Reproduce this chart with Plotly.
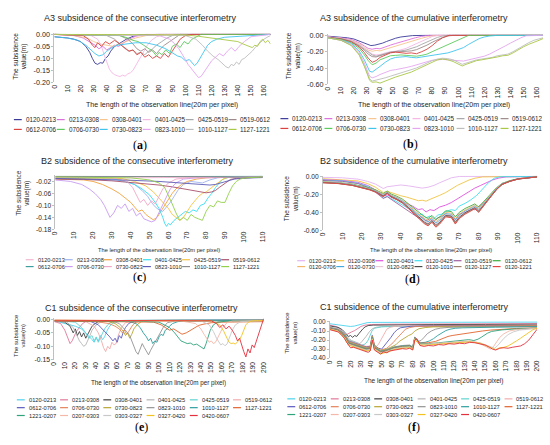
import plotly.graph_objects as go

W, H = 550, 445

# ---------------- data ----------------
A3_CONSEC = {
    "0120-0213": ([0, 5, 10, 15, 20, 24, 27, 29, 31, 33, 35, 37, 39, 41, 43, 46, 50, 55, 60, 65, 80, 100, 130, 165],
                  [-0.010, -0.012, -0.015, -0.020, -0.030, -0.050, -0.075, -0.100, -0.120, -0.125, -0.118, -0.120, -0.100, -0.090, -0.070, -0.050, -0.035, -0.020, -0.008, -0.002, 0.0, 0.0, 0.0, 0.0]),
    "0213-0308": ([0, 15, 22, 27, 31, 34, 37, 40, 43, 46, 49, 53, 57, 62, 70, 165],
                  [0, -0.005, -0.015, -0.030, -0.045, -0.060, -0.050, -0.065, -0.055, -0.045, -0.050, -0.035, -0.020, -0.008, 0, 0]),
    "0308-0401": ([0, 15, 25, 30, 35, 40, 45, 50, 55, 62, 70, 80, 165],
                  [0, -0.005, -0.015, -0.030, -0.040, -0.045, -0.050, -0.040, -0.030, -0.015, -0.005, 0, 0]),
    "0401-0425": ([0, 28, 33, 36, 38, 40, 42, 44, 46, 48, 50, 52, 54, 56, 58, 60, 62, 64, 66, 68, 71, 74, 78, 85, 165],
                  [0, -0.005, -0.020, -0.050, -0.085, -0.120, -0.145, -0.160, -0.168, -0.172, -0.176, -0.170, -0.174, -0.165, -0.160, -0.150, -0.130, -0.110, -0.090, -0.070, -0.045, -0.025, -0.010, 0, 0]),
    "0425-0519": ([0, 40, 46, 50, 54, 57, 60, 63, 66, 69, 72, 75, 78, 82, 86, 92, 165],
                  [0, -0.005, -0.020, -0.040, -0.060, -0.070, -0.065, -0.080, -0.075, -0.085, -0.070, -0.060, -0.045, -0.030, -0.015, 0, 0]),
    "0519-0612": ([0, 50, 56, 60, 63, 66, 69, 72, 75, 78, 81, 84, 88, 92, 96, 165],
                  [0, -0.005, -0.020, -0.040, -0.060, -0.070, -0.060, -0.075, -0.065, -0.080, -0.060, -0.045, -0.030, -0.015, 0, 0]),
    "0612-0706": ([0, 22, 26, 29, 31, 33, 36, 39, 42, 46, 50, 54, 57, 60, 63, 66, 69, 72, 75, 78, 81, 84, 87, 90, 93, 96, 100, 105, 165],
                  [0, -0.005, -0.020, -0.045, -0.055, -0.035, -0.050, -0.030, -0.040, -0.025, -0.040, -0.055, -0.070, -0.065, -0.085, -0.075, -0.095, -0.085, -0.100, -0.090, -0.100, -0.080, -0.095, -0.070, -0.045, -0.020, -0.005, 0, 0]),
    "0706-0730": ([0, 50, 56, 60, 64, 68, 72, 75, 78, 80, 82, 85, 88, 90, 93, 96, 99, 102, 105, 108, 112, 165],
                  [0, -0.005, -0.015, -0.025, -0.030, -0.045, -0.060, -0.070, -0.090, -0.075, -0.085, -0.065, -0.080, -0.050, -0.040, -0.055, -0.030, -0.040, -0.020, -0.010, 0, 0]),
    "0730-0823": ([0, 10, 18, 24, 28, 31, 34, 37, 40, 44, 48, 55, 62, 70, 78, 85, 90, 94, 97, 100, 103, 105, 107, 109, 111, 113, 115, 117, 120, 124, 130, 140, 150, 165],
                  [-0.010, -0.015, -0.025, -0.045, -0.065, -0.080, -0.090, -0.085, -0.070, -0.055, -0.045, -0.040, -0.035, -0.035, -0.045, -0.060, -0.075, -0.090, -0.095, -0.110, -0.105, -0.120, -0.130, -0.120, -0.100, -0.080, -0.060, -0.045, -0.030, -0.020, -0.012, -0.008, -0.004, 0]),
    "0823-1010": ([0, 80, 88, 92, 95, 98, 100, 102, 104, 106, 108, 110, 112, 114, 116, 118, 120, 123, 126, 129, 132, 135, 138, 141, 145, 150, 165],
                  [0, -0.005, -0.020, -0.040, -0.060, -0.085, -0.105, -0.125, -0.140, -0.155, -0.170, -0.180, -0.175, -0.160, -0.140, -0.125, -0.110, -0.095, -0.080, -0.090, -0.070, -0.055, -0.070, -0.050, -0.030, -0.010, 0]),
    "1010-1127": ([0, 100, 108, 113, 117, 121, 125, 128, 131, 133, 135, 137, 139, 141, 143, 145, 148, 151, 154, 157, 160, 163, 165],
                  [0, -0.005, -0.020, -0.045, -0.070, -0.090, -0.105, -0.120, -0.135, -0.140, -0.125, -0.130, -0.115, -0.125, -0.105, -0.100, -0.085, -0.070, -0.050, -0.035, -0.020, -0.010, -0.005]),
    "1127-1221": ([0, 100, 110, 120, 128, 135, 140, 144, 148, 151, 153, 155, 157, 159, 161, 163, 165],
                  [0, -0.002, -0.008, -0.015, -0.020, -0.025, -0.030, -0.040, -0.050, -0.055, -0.045, -0.050, -0.030, -0.020, -0.035, -0.025, -0.040]),
}

A3_CUM_X = [0, 10, 18, 24, 28, 30, 32, 34, 37, 40, 44, 48, 52, 56, 60, 64, 68, 72, 76, 80, 84, 88, 92, 96, 100,
            103, 106, 110, 114, 118, 122, 126, 130, 134, 138, 142, 146, 150, 154, 158, 162, 165]
A3_CUMUL = {
    "0120-0213": ([0, 5, 10, 15, 20, 24, 27, 30, 33, 36, 39, 42, 45, 48, 52, 56, 60, 65, 75, 165],
                  [-0.010, -0.015, -0.020, -0.030, -0.045, -0.070, -0.095, -0.115, -0.125, -0.120, -0.110, -0.095, -0.075, -0.055, -0.035, -0.020, -0.010, -0.003, 0, 0]),
    "0213-0308": ([0, 10, 18, 24, 28, 31, 34, 37, 40, 44, 48, 52, 57, 62, 67, 72, 78, 165],
                  [-0.020, -0.030, -0.050, -0.090, -0.130, -0.160, -0.170, -0.160, -0.165, -0.140, -0.120, -0.100, -0.075, -0.050, -0.030, -0.012, 0, 0]),
    "0308-0401": ([0, 10, 18, 24, 28, 31, 34, 37, 40, 44, 48, 52, 57, 62, 67, 72, 77, 82, 165],
                  [-0.020, -0.035, -0.060, -0.100, -0.150, -0.180, -0.195, -0.185, -0.190, -0.170, -0.150, -0.130, -0.110, -0.085, -0.060, -0.035, -0.015, 0, 0]),
    "0401-0425": ([0, 10, 18, 24, 28, 31, 34, 37, 40, 44, 48, 52, 56, 60, 64, 68, 72, 76, 80, 85, 165],
                  [-0.020, -0.035, -0.065, -0.110, -0.160, -0.200, -0.230, -0.240, -0.235, -0.215, -0.200, -0.195, -0.180, -0.160, -0.130, -0.100, -0.070, -0.040, -0.015, 0, 0]),
    "0425-0519": ([0, 10, 18, 24, 28, 31, 34, 37, 40, 44, 48, 52, 56, 60, 64, 68, 72, 76, 80, 84, 88, 92, 165],
                  [-0.025, -0.040, -0.070, -0.120, -0.170, -0.210, -0.240, -0.255, -0.245, -0.225, -0.205, -0.200, -0.190, -0.180, -0.160, -0.140, -0.110, -0.080, -0.050, -0.025, -0.008, 0, 0]),
    "0519-0612": ([0, 10, 18, 24, 28, 31, 34, 37, 40, 44, 48, 52, 56, 60, 64, 68, 72, 76, 80, 84, 88, 92, 96, 165],
                  [-0.025, -0.040, -0.075, -0.130, -0.180, -0.230, -0.260, -0.265, -0.250, -0.230, -0.210, -0.205, -0.200, -0.195, -0.190, -0.175, -0.150, -0.120, -0.085, -0.050, -0.025, -0.008, 0, 0]),
    "0612-0706": ([0, 10, 18, 24, 28, 31, 34, 37, 40, 44, 48, 52, 56, 60, 64, 68, 72, 76, 80, 84, 88, 93, 165],
                  [-0.025, -0.045, -0.080, -0.140, -0.210, -0.280, -0.330, -0.310, -0.270, -0.240, -0.215, -0.205, -0.210, -0.220, -0.215, -0.225, -0.200, -0.170, -0.125, -0.070, -0.030, 0, 0]),
    "0706-0730": ([0, 10, 18, 24, 28, 31, 34, 37, 40, 44, 48, 52, 56, 60, 64, 68, 72, 76, 80, 84, 88, 92, 96, 100, 104, 108, 165],
                  [-0.030, -0.050, -0.090, -0.160, -0.240, -0.310, -0.360, -0.340, -0.300, -0.270, -0.250, -0.245, -0.240, -0.245, -0.250, -0.255, -0.245, -0.230, -0.200, -0.170, -0.140, -0.110, -0.080, -0.050, -0.020, 0, 0]),
    "0730-0823": ([0, 10, 18, 24, 28, 30, 32, 34, 37, 40, 44, 48, 52, 56, 60, 64, 68, 72, 76, 80, 84, 88, 92, 96, 100, 104, 108, 112, 116, 120, 124, 130, 165],
                  [-0.030, -0.055, -0.100, -0.190, -0.300, -0.380, -0.440, -0.450, -0.420, -0.380, -0.330, -0.290, -0.270, -0.265, -0.260, -0.270, -0.275, -0.265, -0.255, -0.245, -0.235, -0.225, -0.215, -0.195, -0.175, -0.150, -0.110, -0.070, -0.040, -0.020, -0.008, 0, 0]),
    "0823-1010": ([0, 10, 18, 24, 28, 30, 32, 34, 37, 40, 44, 48, 52, 56, 60, 64, 68, 72, 76, 80, 84, 88, 92, 96, 100, 104, 108, 112, 116, 120, 124, 128, 132, 136, 140, 144, 148, 152, 165],
                  [-0.030, -0.060, -0.110, -0.210, -0.340, -0.430, -0.500, -0.520, -0.505, -0.480, -0.450, -0.430, -0.420, -0.410, -0.395, -0.380, -0.360, -0.340, -0.320, -0.305, -0.300, -0.295, -0.300, -0.305, -0.310, -0.315, -0.300, -0.285, -0.270, -0.255, -0.230, -0.200, -0.165, -0.130, -0.095, -0.060, -0.030, -0.005, 0]),
    "1010-1127": (A3_CUM_X,
                  [-0.030, -0.060, -0.120, -0.230, -0.370, -0.460, -0.530, -0.560, -0.550, -0.540, -0.520, -0.500, -0.480, -0.460, -0.440, -0.420, -0.400, -0.370, -0.340, -0.310, -0.290, -0.280, -0.285, -0.300, -0.330, -0.355, -0.340, -0.320, -0.300, -0.290, -0.280, -0.270, -0.250, -0.240, -0.230, -0.200, -0.160, -0.120, -0.090, -0.060, -0.040, -0.030]),
    "1127-1221": (A3_CUM_X,
                  [-0.030, -0.060, -0.125, -0.240, -0.380, -0.480, -0.550, -0.575, -0.570, -0.585, -0.560, -0.530, -0.510, -0.490, -0.470, -0.450, -0.420, -0.390, -0.360, -0.330, -0.300, -0.290, -0.300, -0.320, -0.350, -0.375, -0.355, -0.330, -0.310, -0.300, -0.290, -0.280, -0.265, -0.250, -0.245, -0.215, -0.175, -0.140, -0.110, -0.080, -0.060, -0.040]),
}

B2_CONSEC = {
    "0120-0213": ([0, 10, 20, 40, 60, 80, 100, 110],
                  [-0.015, -0.012, -0.010, -0.008, -0.007, -0.006, -0.005, -0.004]),
    "0213-0308": ([0, 20, 35, 42, 46, 49, 51, 53, 55, 57, 59, 61, 63, 65, 68, 72, 78, 82, 86, 90, 110],
                  [-0.010, -0.012, -0.015, -0.030, -0.050, -0.070, -0.090, -0.105, -0.115, -0.120, -0.105, -0.090, -0.070, -0.050, -0.030, -0.020, -0.025, -0.015, -0.008, -0.005, -0.004]),
    "0308-0401": ([0, 15, 20, 25, 30, 34, 37, 40, 42, 44, 46, 48, 50, 52, 54, 56, 58, 60, 62, 64, 67, 70, 75, 80, 90, 110],
                  [-0.012, -0.015, -0.020, -0.030, -0.045, -0.060, -0.075, -0.090, -0.105, -0.120, -0.115, -0.130, -0.140, -0.148, -0.140, -0.120, -0.100, -0.080, -0.060, -0.045, -0.030, -0.020, -0.012, -0.008, -0.005, -0.004]),
    "0401-0425": ([0, 30, 37, 42, 46, 50, 53, 55, 57, 58, 59, 60, 61, 63, 65, 67, 69, 71, 73, 75, 77, 79, 81, 83, 85, 87, 89, 92, 100, 110],
                  [-0.008, -0.010, -0.020, -0.030, -0.045, -0.065, -0.090, -0.110, -0.140, -0.160, -0.170, -0.160, -0.165, -0.150, -0.140, -0.130, -0.120, -0.125, -0.115, -0.120, -0.100, -0.095, -0.075, -0.060, -0.040, -0.025, -0.012, -0.006, -0.004, -0.003]),
    "0425-0519": ([0, 35, 42, 48, 52, 55, 58, 60, 62, 64, 66, 68, 70, 72, 74, 76, 78, 80, 83, 86, 89, 92, 110],
                  [-0.008, -0.010, -0.020, -0.035, -0.055, -0.075, -0.095, -0.110, -0.130, -0.140, -0.150, -0.140, -0.120, -0.100, -0.085, -0.070, -0.060, -0.055, -0.040, -0.025, -0.012, -0.006, -0.004]),
    "0519-0612": ([0, 15, 30, 45, 55, 62, 68, 73, 77, 80, 83, 85, 87, 89, 91, 93, 96, 100, 105, 110],
                  [-0.012, -0.013, -0.018, -0.025, -0.032, -0.038, -0.045, -0.050, -0.055, -0.058, -0.055, -0.050, -0.040, -0.030, -0.020, -0.013, -0.010, -0.008, -0.007, -0.006]),
    "0612-0706": ([0, 20, 40, 60, 80, 100, 110],
                  [-0.004, -0.004, -0.005, -0.005, -0.004, -0.004, -0.003]),
    "0706-0730": ([0, 8, 14, 18, 21, 24, 26, 28, 29, 31, 33, 35, 37, 39, 41, 43, 45, 47, 49, 51, 53, 55, 57, 59, 61, 64, 68, 75, 90, 110],
                  [-0.015, -0.020, -0.030, -0.045, -0.060, -0.080, -0.100, -0.125, -0.140, -0.125, -0.100, -0.110, -0.095, -0.120, -0.110, -0.135, -0.125, -0.145, -0.150, -0.155, -0.150, -0.125, -0.095, -0.070, -0.045, -0.025, -0.012, -0.008, -0.006, -0.005]),
    "0730-0823": ([0, 30, 38, 41, 43, 45, 47, 49, 51, 53, 55, 57, 60, 64, 70, 110],
                  [-0.006, -0.008, -0.020, -0.040, -0.065, -0.090, -0.080, -0.100, -0.085, -0.095, -0.070, -0.045, -0.025, -0.012, -0.008, -0.005]),
    "0823-1010": ([0, 20, 40, 55, 65, 72, 78, 82, 85, 88, 91, 95, 100, 105, 110],
                  [-0.010, -0.012, -0.016, -0.020, -0.024, -0.028, -0.030, -0.032, -0.030, -0.025, -0.018, -0.012, -0.009, -0.008, -0.007]),
    "1010-1127": ([0, 20, 40, 60, 80, 95, 105, 110],
                  [-0.003, -0.003, -0.004, -0.004, -0.004, -0.006, -0.006, -0.005]),
    "1127-1221": ([0, 40, 50, 55, 58, 60, 62, 64, 66, 68, 70, 72, 74, 76, 78, 80, 82, 84, 86, 88, 90, 92, 94, 96, 98, 101, 105, 110],
                  [-0.005, -0.008, -0.015, -0.025, -0.040, -0.065, -0.095, -0.125, -0.150, -0.140, -0.150, -0.130, -0.140, -0.145, -0.150, -0.120, -0.100, -0.105, -0.085, -0.090, -0.090, -0.060, -0.035, -0.020, -0.012, -0.008, -0.006, -0.005]),
}

B2_BUNDLE_X = [0, 8, 15, 20, 24, 27, 29, 31, 33, 35, 38, 41, 44, 47, 50, 52, 54, 56, 58, 60, 63, 66, 68, 70, 73,
               76, 78, 80, 83, 86, 89, 92, 96, 100, 105, 110]
B2_CUMUL = {
    "0120-0213": ([0, 10, 18, 23, 27, 29, 31, 33, 36, 40, 44, 48, 51, 54, 57, 60, 63, 66, 70, 110],
                  [-0.010, -0.015, -0.030, -0.055, -0.085, -0.110, -0.135, -0.115, -0.105, -0.095, -0.105, -0.120, -0.130, -0.120, -0.100, -0.070, -0.040, -0.015, 0, 0]),
    "0120-0308": ([0, 10, 18, 23, 27, 29, 31, 33, 36, 40, 43, 46, 49, 51, 53, 55, 57, 60, 63, 66, 69, 72, 75, 78, 82, 110],
                  [-0.025, -0.035, -0.050, -0.080, -0.120, -0.150, -0.180, -0.165, -0.190, -0.215, -0.230, -0.250, -0.270, -0.265, -0.275, -0.255, -0.240, -0.210, -0.180, -0.140, -0.100, -0.070, -0.040, -0.020, -0.005, 0]),
    "0120-0401": ([0, 10, 18, 23, 27, 29, 31, 33, 36, 40, 43, 46, 49, 51, 53, 55, 57, 60, 63, 66, 69, 72, 75, 78, 81, 84, 87, 90, 94, 110],
                  [-0.035, -0.045, -0.065, -0.100, -0.150, -0.190, -0.220, -0.205, -0.240, -0.280, -0.300, -0.330, -0.370, -0.360, -0.395, -0.370, -0.380, -0.340, -0.320, -0.290, -0.250, -0.210, -0.170, -0.130, -0.100, -0.070, -0.040, -0.020, -0.005, 0]),
    "0120-0425": ([0, 10, 18, 23, 27, 29, 31, 33, 36, 40, 43, 46, 49, 51, 53, 55, 57, 59, 61, 63, 66, 68, 70, 73, 76, 79, 82, 85, 88, 91, 110],
                  [-0.040, -0.050, -0.075, -0.110, -0.165, -0.205, -0.240, -0.220, -0.260, -0.310, -0.345, -0.380, -0.430, -0.420, -0.460, -0.440, -0.470, -0.430, -0.420, -0.390, -0.370, -0.380, -0.330, -0.300, -0.260, -0.210, -0.140, -0.070, -0.020, -0.003, 0]),
    "0120-0519": ([0, 10, 18, 23, 27, 29, 31, 33, 36, 40, 43, 46, 49, 51, 53, 55, 57, 59, 61, 63, 66, 68, 70, 73, 76, 78, 80, 82, 85, 88, 90, 92, 95, 98, 102, 106, 110],
                  [-0.045, -0.055, -0.080, -0.120, -0.175, -0.215, -0.245, -0.225, -0.270, -0.330, -0.370, -0.410, -0.460, -0.450, -0.495, -0.470, -0.500, -0.460, -0.445, -0.420, -0.440, -0.480, -0.420, -0.400, -0.360, -0.370, -0.340, -0.300, -0.250, -0.180, -0.120, -0.090, -0.060, -0.040, -0.020, -0.008, 0]),
    "0120-0612": (B2_BUNDLE_X,
                  [-0.060, -0.068, -0.085, -0.106, -0.128, -0.149, -0.170, -0.191, -0.162, -0.196, -0.221, -0.255, -0.306, -0.357, -0.408, -0.446, -0.468, -0.434, -0.480, -0.451, -0.383, -0.391, -0.451, -0.400, -0.357, -0.323, -0.306, -0.340, -0.272, -0.196, -0.128, -0.077, -0.047, -0.026, -0.013, -0.004]),
    "0120-0706": (B2_BUNDLE_X,
                  [-0.062, -0.071, -0.089, -0.111, -0.134, -0.156, -0.178, -0.200, -0.169, -0.205, -0.231, -0.267, -0.320, -0.374, -0.427, -0.467, -0.490, -0.454, -0.503, -0.472, -0.401, -0.409, -0.472, -0.418, -0.374, -0.338, -0.320, -0.356, -0.285, -0.205, -0.134, -0.080, -0.049, -0.027, -0.013, -0.004]),
    "0120-0730": (B2_BUNDLE_X,
                  [-0.064, -0.074, -0.092, -0.115, -0.138, -0.161, -0.184, -0.207, -0.175, -0.212, -0.239, -0.276, -0.331, -0.386, -0.442, -0.483, -0.506, -0.469, -0.520, -0.488, -0.414, -0.423, -0.488, -0.432, -0.386, -0.350, -0.331, -0.368, -0.294, -0.212, -0.138, -0.083, -0.051, -0.028, -0.014, -0.005]),
    "0120-0823": (B2_BUNDLE_X,
                  [-0.066, -0.075, -0.094, -0.118, -0.141, -0.165, -0.188, -0.212, -0.179, -0.216, -0.244, -0.282, -0.338, -0.395, -0.451, -0.494, -0.517, -0.479, -0.531, -0.498, -0.423, -0.432, -0.498, -0.442, -0.395, -0.357, -0.338, -0.376, -0.301, -0.216, -0.141, -0.085, -0.052, -0.028, -0.014, -0.005]),
    "0120-1010": (B2_BUNDLE_X,
                  [-0.068, -0.077, -0.097, -0.121, -0.145, -0.169, -0.193, -0.217, -0.183, -0.222, -0.251, -0.290, -0.347, -0.405, -0.463, -0.507, -0.531, -0.492, -0.545, -0.511, -0.434, -0.444, -0.511, -0.454, -0.405, -0.367, -0.347, -0.386, -0.309, -0.222, -0.145, -0.087, -0.053, -0.029, -0.014, -0.005]),
    "0120-1127": (B2_BUNDLE_X,
                  [-0.069, -0.079, -0.099, -0.123, -0.148, -0.172, -0.197, -0.222, -0.187, -0.227, -0.256, -0.296, -0.355, -0.414, -0.473, -0.517, -0.542, -0.502, -0.557, -0.522, -0.443, -0.453, -0.522, -0.463, -0.414, -0.374, -0.355, -0.394, -0.315, -0.227, -0.148, -0.089, -0.054, -0.030, -0.015, -0.005]),
    "0120-1221": (B2_BUNDLE_X,
                  [-0.070, -0.080, -0.100, -0.125, -0.150, -0.175, -0.200, -0.225, -0.190, -0.230, -0.260, -0.300, -0.360, -0.420, -0.480, -0.525, -0.550, -0.510, -0.565, -0.530, -0.450, -0.460, -0.530, -0.470, -0.420, -0.380, -0.360, -0.400, -0.320, -0.230, -0.150, -0.090, -0.055, -0.030, -0.015, -0.005]),
}

C1_CONSEC = {
    "0120-0213": ([0, 8, 14, 20, 26, 30, 33, 36, 38, 40, 42, 44, 46, 48, 50, 52, 55, 58, 62, 70, 100, 150, 200],
                  [-0.005, -0.012, -0.020, -0.025, -0.035, -0.050, -0.065, -0.075, -0.085, -0.070, -0.080, -0.060, -0.075, -0.065, -0.045, -0.030, -0.015, -0.008, -0.004, -0.003, -0.003, -0.002, 0]),
    "0213-0308": ([0, 6, 10, 13, 15, 17, 19, 21, 24, 27, 30, 35, 60, 100, 150, 200],
                  [-0.008, -0.015, -0.040, -0.070, -0.090, -0.080, -0.060, -0.045, -0.030, -0.015, -0.008, -0.005, -0.004, -0.003, -0.003, -0.002]),
    "0308-0401": ([0, 10, 15, 18, 20, 22, 24, 26, 28, 30, 32, 34, 36, 39, 42, 46, 55, 80, 120, 160, 200],
                  [-0.004, -0.010, -0.025, -0.050, -0.035, -0.060, -0.045, -0.065, -0.050, -0.070, -0.055, -0.040, -0.025, -0.015, -0.008, -0.005, -0.004, -0.004, -0.003, -0.003, -0.003]),
    "0401-0425": ([0, 12, 18, 21, 24, 26, 28, 30, 32, 34, 36, 40, 45, 60, 100, 150, 200],
                  [-0.005, -0.010, -0.030, -0.055, -0.080, -0.090, -0.100, -0.095, -0.080, -0.060, -0.040, -0.020, -0.008, -0.004, -0.003, -0.003, -0.002]),
    "0425-0519": ([0, 20, 26, 30, 33, 36, 38, 40, 42, 44, 46, 48, 51, 55, 60, 80, 120, 160, 200],
                  [-0.004, -0.010, -0.030, -0.050, -0.070, -0.060, -0.080, -0.065, -0.085, -0.070, -0.050, -0.035, -0.020, -0.008, -0.004, -0.003, -0.003, -0.002, -0.002]),
    "0519-0612": ([0, 30, 38, 42, 45, 47, 49, 51, 53, 55, 57, 59, 61, 64, 68, 75, 100, 150, 200],
                  [-0.004, -0.008, -0.025, -0.050, -0.080, -0.105, -0.120, -0.100, -0.110, -0.085, -0.095, -0.090, -0.060, -0.030, -0.012, -0.006, -0.004, -0.003, -0.003]),
    "0612-0706": ([0, 35, 42, 46, 50, 53, 56, 58, 60, 62, 64, 66, 68, 71, 75, 80, 100, 150, 200],
                  [-0.005, -0.008, -0.020, -0.035, -0.050, -0.065, -0.080, -0.070, -0.085, -0.060, -0.070, -0.045, -0.030, -0.015, -0.008, -0.005, -0.004, -0.004, -0.003]),
    "0706-0730": ([0, 40, 52, 58, 62, 65, 67, 69, 71, 73, 75, 78, 82, 90, 120, 160, 200],
                  [-0.005, -0.008, -0.015, -0.025, -0.035, -0.050, -0.040, -0.055, -0.045, -0.030, -0.020, -0.010, -0.006, -0.005, -0.005, -0.005, -0.004]),
    "0730-0823": ([0, 50, 58, 63, 66, 68, 70, 72, 74, 76, 79, 83, 90, 120, 160, 200],
                  [-0.004, -0.006, -0.015, -0.030, -0.045, -0.060, -0.050, -0.070, -0.055, -0.035, -0.020, -0.008, -0.005, -0.004, -0.004, -0.003]),
    "0823-1010": ([0, 55, 62, 66, 69, 72, 74, 76, 78, 80, 82, 84, 86, 88, 90, 92, 94, 96, 98, 101, 104, 108, 115, 150, 200],
                  [-0.004, -0.006, -0.015, -0.030, -0.045, -0.060, -0.080, -0.100, -0.120, -0.130, -0.110, -0.090, -0.105, -0.120, -0.132, -0.115, -0.100, -0.090, -0.070, -0.050, -0.030, -0.012, -0.006, -0.004, -0.003]),
    "1010-1127": ([0, 70, 78, 82, 85, 88, 90, 92, 94, 96, 98, 100, 102, 104, 106, 108, 110, 113, 118, 125, 150, 200],
                  [-0.004, -0.006, -0.015, -0.030, -0.050, -0.065, -0.080, -0.070, -0.090, -0.080, -0.085, -0.065, -0.055, -0.060, -0.040, -0.035, -0.025, -0.015, -0.008, -0.006, -0.005, -0.004]),
    "1127-1221": ([0, 50, 95, 102, 106, 110, 114, 118, 122, 126, 130, 134, 138, 142, 146, 150, 160, 180, 200],
                  [-0.005, -0.007, -0.010, -0.020, -0.030, -0.040, -0.035, -0.045, -0.055, -0.050, -0.040, -0.030, -0.022, -0.018, -0.014, -0.012, -0.010, -0.009, -0.008]),
    "1221-0207": ([0, 80, 100, 110, 115, 118, 121, 124, 127, 130, 133, 136, 139, 141, 143, 145, 147, 149, 152, 156, 165, 200],
                  [-0.004, -0.006, -0.010, -0.030, -0.050, -0.065, -0.080, -0.085, -0.090, -0.088, -0.095, -0.092, -0.100, -0.105, -0.110, -0.090, -0.060, -0.040, -0.020, -0.010, -0.006, -0.004]),
    "0207-0303": ([0, 120, 135, 140, 143, 146, 148, 150, 152, 154, 156, 158, 161, 165, 170, 200],
                  [-0.003, -0.005, -0.015, -0.035, -0.055, -0.075, -0.085, -0.080, -0.090, -0.085, -0.070, -0.050, -0.030, -0.012, -0.006, -0.004]),
    "0303-0327": ([0, 140, 148, 152, 155, 157, 159, 161, 163, 165, 167, 170, 173, 178, 200],
                  [-0.003, -0.005, -0.020, -0.045, -0.070, -0.085, -0.095, -0.090, -0.098, -0.092, -0.070, -0.040, -0.020, -0.008, -0.004]),
    "0327-0420": ([0, 150, 158, 162, 165, 167, 169, 171, 173, 175, 177, 179, 181, 183, 186, 190, 200],
                  [-0.003, -0.005, -0.020, -0.045, -0.070, -0.085, -0.090, -0.088, -0.092, -0.085, -0.075, -0.060, -0.040, -0.020, -0.008, -0.005, -0.004]),
    "0420-0607": ([0, 150, 155, 158, 161, 164, 167, 170, 173, 175, 177, 179, 181, 183, 185, 187, 189, 191, 193, 195, 197, 199, 200],
                  [-0.003, -0.005, -0.015, -0.030, -0.020, -0.035, -0.025, -0.040, -0.060, -0.080, -0.070, -0.100, -0.120, -0.140, -0.110, -0.125, -0.095, -0.105, -0.080, -0.060, -0.030, -0.010, 0.003]),
}

C1_CUMUL = {
    "0120-0213": ([0, 8, 14, 20, 24, 28, 32, 36, 40, 60, 100, 150, 200],
                  [-0.020, -0.030, -0.040, -0.050, -0.045, -0.030, -0.015, -0.008, -0.005, -0.004, -0.003, -0.003, -0.002]),
    "0213-0308": ([0, 6, 10, 13, 15, 17, 19, 21, 24, 27, 30, 34, 40, 60, 100, 150, 200],
                  [-0.035, -0.050, -0.075, -0.110, -0.140, -0.135, -0.120, -0.110, -0.095, -0.070, -0.050, -0.035, -0.028, -0.025, -0.022, -0.020, -0.018]),
    "0308-0401": ([0, 8, 12, 15, 18, 20, 22, 24, 26, 28, 30, 32, 34, 37, 42, 60, 100, 150, 200],
                  [-0.045, -0.060, -0.085, -0.120, -0.160, -0.150, -0.170, -0.150, -0.160, -0.130, -0.100, -0.075, -0.055, -0.040, -0.035, -0.032, -0.030, -0.028, -0.026]),
    "0401-0425": ([0, 8, 14, 18, 21, 24, 27, 29, 31, 33, 35, 38, 41, 45, 50, 70, 110, 150, 200],
                  [-0.055, -0.072, -0.110, -0.180, -0.205, -0.220, -0.235, -0.240, -0.215, -0.190, -0.160, -0.110, -0.075, -0.058, -0.052, -0.048, -0.045, -0.043, -0.040]),
    "0425-0519": ([0, 8, 14, 18, 23, 27, 30, 33, 35, 37, 39, 41, 43, 46, 50, 60, 90, 130, 170, 200],
                  [-0.060, -0.078, -0.120, -0.200, -0.220, -0.240, -0.255, -0.250, -0.235, -0.200, -0.150, -0.090, -0.070, -0.060, -0.054, -0.050, -0.046, -0.044, -0.042, -0.040]),
    "0519-0612": ([0, 8, 14, 18, 23, 29, 35, 39, 41, 43, 45, 47, 49, 51, 53, 55, 58, 62, 70, 90, 130, 170, 200],
                  [-0.062, -0.080, -0.125, -0.205, -0.225, -0.250, -0.270, -0.265, -0.145, -0.250, -0.270, -0.245, -0.200, -0.160, -0.115, -0.080, -0.060, -0.050, -0.044, -0.040, -0.038, -0.036, -0.034]),
    "0612-0706": ([0, 8, 14, 18, 23, 29, 35, 39, 41, 43, 47, 50, 53, 56, 59, 62, 65, 68, 72, 78, 90, 120, 160, 200],
                  [-0.064, -0.083, -0.130, -0.210, -0.230, -0.255, -0.275, -0.270, -0.150, -0.260, -0.290, -0.300, -0.260, -0.210, -0.170, -0.120, -0.085, -0.065, -0.055, -0.048, -0.044, -0.042, -0.040, -0.038]),
    "0706-0730": ([0, 8, 14, 18, 23, 29, 35, 39, 41, 43, 49, 55, 58, 61, 64, 67, 70, 73, 77, 82, 90, 110, 150, 200],
                  [-0.066, -0.085, -0.135, -0.215, -0.235, -0.260, -0.280, -0.275, -0.155, -0.265, -0.310, -0.290, -0.265, -0.230, -0.190, -0.150, -0.110, -0.080, -0.062, -0.052, -0.048, -0.045, -0.043, -0.042]),
    "0730-0823": ([0, 8, 14, 18, 23, 29, 35, 39, 41, 43, 49, 55, 60, 64, 67, 70, 73, 76, 79, 82, 86, 92, 100, 130, 160, 200],
                  [-0.068, -0.088, -0.140, -0.220, -0.240, -0.265, -0.285, -0.280, -0.160, -0.270, -0.315, -0.300, -0.275, -0.250, -0.215, -0.190, -0.165, -0.150, -0.135, -0.100, -0.075, -0.062, -0.055, -0.050, -0.048, -0.046]),
    "0823-1010": ([0, 8, 14, 18, 23, 29, 35, 39, 41, 43, 49, 55, 62, 70, 77, 80, 82, 85, 88, 91, 94, 98, 102, 107, 115, 130, 160, 200],
                  [-0.070, -0.090, -0.145, -0.225, -0.245, -0.270, -0.290, -0.285, -0.165, -0.275, -0.320, -0.305, -0.275, -0.260, -0.255, -0.275, -0.165, -0.215, -0.205, -0.170, -0.130, -0.100, -0.080, -0.068, -0.060, -0.055, -0.052, -0.050]),
    "1010-1127": ([0, 8, 14, 18, 23, 29, 35, 39, 41, 43, 49, 55, 62, 70, 77, 80, 82, 87, 92, 96, 100, 104, 108, 112, 116, 121, 128, 140, 160, 180, 200],
                  [-0.072, -0.092, -0.150, -0.230, -0.250, -0.275, -0.295, -0.290, -0.170, -0.280, -0.325, -0.310, -0.280, -0.265, -0.260, -0.280, -0.170, -0.230, -0.225, -0.210, -0.185, -0.150, -0.120, -0.095, -0.080, -0.070, -0.065, -0.060, -0.058, -0.055, -0.052]),
    "1127-1221": ([0, 8, 14, 18, 23, 29, 35, 39, 41, 43, 49, 55, 62, 70, 77, 80, 82, 87, 95, 102, 106, 110, 114, 118, 123, 128, 134, 140, 147, 155, 165, 180, 200],
                  [-0.074, -0.095, -0.155, -0.235, -0.255, -0.280, -0.300, -0.295, -0.175, -0.285, -0.330, -0.315, -0.285, -0.270, -0.265, -0.285, -0.175, -0.235, -0.230, -0.215, -0.195, -0.175, -0.160, -0.150, -0.140, -0.130, -0.120, -0.110, -0.100, -0.090, -0.080, -0.072, -0.065]),
    "1221-0207": ([0, 8, 14, 18, 23, 29, 35, 39, 41, 43, 49, 55, 62, 70, 77, 80, 82, 87, 95, 105, 115, 122, 128, 134, 139, 143, 146, 149, 152, 156, 160, 166, 175, 185, 200],
                  [-0.076, -0.098, -0.160, -0.240, -0.260, -0.285, -0.305, -0.300, -0.180, -0.290, -0.335, -0.320, -0.290, -0.275, -0.270, -0.290, -0.180, -0.240, -0.240, -0.230, -0.220, -0.215, -0.205, -0.195, -0.205, -0.190, -0.170, -0.145, -0.125, -0.105, -0.095, -0.088, -0.080, -0.075, -0.068]),
    "0207-0303": ([0, 8, 14, 18, 23, 29, 35, 39, 41, 43, 49, 55, 62, 70, 77, 80, 82, 87, 95, 105, 115, 125, 135, 142, 147, 151, 155, 158, 161, 164, 168, 173, 180, 190, 200],
                  [-0.078, -0.100, -0.165, -0.245, -0.265, -0.290, -0.310, -0.305, -0.185, -0.295, -0.340, -0.325, -0.295, -0.280, -0.275, -0.295, -0.185, -0.245, -0.245, -0.235, -0.225, -0.220, -0.210, -0.225, -0.250, -0.275, -0.300, -0.270, -0.220, -0.170, -0.130, -0.100, -0.085, -0.075, -0.068]),
    "0303-0327": ([0, 8, 14, 18, 23, 29, 35, 39, 41, 43, 49, 55, 62, 70, 77, 80, 82, 87, 95, 105, 115, 125, 135, 145, 152, 156, 159, 162, 165, 168, 172, 177, 183, 190, 200],
                  [-0.080, -0.102, -0.170, -0.250, -0.270, -0.295, -0.315, -0.310, -0.190, -0.300, -0.345, -0.330, -0.300, -0.285, -0.280, -0.300, -0.190, -0.250, -0.250, -0.240, -0.230, -0.225, -0.215, -0.230, -0.260, -0.285, -0.290, -0.260, -0.220, -0.180, -0.140, -0.110, -0.090, -0.080, -0.072]),
    "0327-0420": ([0, 8, 14, 18, 23, 29, 35, 39, 41, 43, 49, 55, 62, 70, 77, 80, 82, 87, 95, 105, 115, 125, 135, 145, 154, 160, 164, 168, 172, 176, 180, 184, 188, 192, 196, 200],
                  [-0.082, -0.105, -0.175, -0.255, -0.275, -0.300, -0.320, -0.315, -0.195, -0.305, -0.350, -0.335, -0.305, -0.290, -0.285, -0.305, -0.195, -0.255, -0.255, -0.245, -0.235, -0.230, -0.220, -0.235, -0.275, -0.305, -0.285, -0.280, -0.265, -0.240, -0.210, -0.180, -0.145, -0.110, -0.085, -0.070]),
    "0420-0607": ([0, 4, 8, 11, 14, 16, 18, 20, 23, 26, 29, 32, 35, 37, 39, 41, 43, 46, 49, 52, 55, 58, 62, 66, 70, 74, 77, 80, 82, 84, 87, 91, 95, 100, 105, 110, 115, 120, 125, 130, 135, 140, 145, 150, 154, 157, 160, 164, 168, 172, 176, 180, 184, 188, 192, 196, 200],
                  [-0.085, -0.095, -0.110, -0.140, -0.180, -0.220, -0.260, -0.285, -0.280, -0.290, -0.305, -0.315, -0.325, -0.335, -0.320, -0.200, -0.310, -0.330, -0.355, -0.330, -0.340, -0.320, -0.310, -0.300, -0.295, -0.300, -0.290, -0.310, -0.200, -0.185, -0.260, -0.270, -0.260, -0.265, -0.250, -0.255, -0.240, -0.245, -0.235, -0.240, -0.225, -0.230, -0.240, -0.255, -0.280, -0.300, -0.310, -0.290, -0.285, -0.290, -0.280, -0.275, -0.265, -0.240, -0.200, -0.140, -0.080]),
}

# series colours
A3_COLORS = ["#3b3b98", "#dc6fdc", "#f7c48e", "#f4b8e4", "#a6a6a6", "#9e8a8a",
             "#d9423e", "#5ccb5c", "#3fc4ee", "#e3a6ef", "#bdbdbd", "#a9c845"]
B2_CONSEC_COLORS = ["#f4b6d2", "#9fb3ee", "#f2a23c", "#35ddf0", "#f5c342", "#a8506a",
                    "#3e9e9e", "#c79cf0", "#f2a6c6", "#5c5cb8", "#8c8c8c", "#93d04a"]
B2_CUMUL_COLORS = ["#e4b4f0", "#f2c443", "#e052e0", "#3fe0f0", "#a15fa0", "#3dae3d",
                   "#f4b66a", "#44a9de", "#e8c8d8", "#4a4a4a", "#a08070", "#e2463f"]
C1_COLORS = ["#4dd2ee", "#e0789a", "#3f3f3f", "#b4b4b4", "#5fd3cf", "#f2abab",
             "#5b5bc0", "#e4825a", "#b8a632", "#939393", "#2e9e9e", "#e2642e",
             "#2fa37a", "#f4b8a8", "#c8c8c8", "#f2c21e", "#e3303e"]

# tick labels
Y_A = [0, -0.05, -0.10, -0.15, -0.20]
Y_A_TXT = ["0.00", "-0.05", "-0.10", "-0.15", "-0.20"]
Y_B = [0, -0.2, -0.4, -0.6]
Y_B_TXT = ["0.00", "-0.20", "-0.40", "-0.60"]
Y_C = [-0.02, -0.06, -0.10, -0.14, -0.18]
Y_C_TXT = ["-0.02", "-0.06", "-0.10", "-0.14", "-0.18"]
Y_E = [0, -0.05, -0.10, -0.15]
Y_E_TXT = ["0.00", "-0.05", "-0.10", "-0.15"]
Y_F = [0, -0.1, -0.2, -0.3, -0.4]
Y_F_TXT = ["0.00", "-0.10", "-0.20", "-0.30", "-0.40"]

XTITLE = "The length of the observation line(20m per pixel)"
YTITLE = "The subsidence<br>value(m)"

# ---------------- layout (pixel positions) ----------------
PANELS = [
    dict(data=A3_CONSEC, colors=A3_COLORS, title="A3 subsidence of the consecutive interferometry",
         px=(51, 270), xr=[0, 165], xt=list(range(0, 161, 10)),
         y0=31, ymin_px=80, yr=[-0.20, 0.004], yt=Y_A, ytt=Y_A_TXT,
         tpos=(138, 14), xtpos=(160, 103), ytpos=(17, 53), cap=(138, 144), letter="a",
         leg=(20, 43.5, [118, 128]), fs=dict(ytick=7.2, xtick=7, xt=7.1, yt=6.6, leg=6.3)),
    dict(data=A3_CUMUL, colors=A3_COLORS, title="A3 subsidence of the cumulative interferometry",
         px=(328, 546), xr=[0, 165], xt=list(range(0, 161, 10)),
         y0=32, ymin_px=82, yr=[-0.60, 0.012], yt=Y_B, ytt=Y_B_TXT,
         tpos=(415, 14), xtpos=(436, 103), ytpos=(294, 53), cap=(412, 143), letter="b",
         leg=(290, 44.6, [117, 127]), fs=dict(ytick=7.2, xtick=7, xt=7.1, yt=6.6, leg=6.3)),
    dict(data=B2_CONSEC, colors=B2_CONSEC_COLORS, title="B2 subsidence of the consecutive interferometry",
         px=(52, 262), xr=[0, 110], xt=list(range(0, 111, 10)),
         y0=175, ymin_px=230, yr=[-0.18, 0.001], yt=Y_C, ytt=Y_C_TXT,
         tpos=(135, 160), xtpos=(157, 251), ytpos=(19, 193), cap=(137, 279), letter="c",
         leg=(32, 39.6, [261, 268]), fs=dict(ytick=6.6, xtick=6.6, xt=5.7, yt=6.4, leg=5.6)),
    dict(data=B2_CUMUL, colors=B2_CUMUL_COLORS, title="B2 subsidence of the cumulative interferometry",
         px=(323, 540), xr=[0, 110], xt=list(range(0, 111, 10)),
         y0=176, ymin_px=231, yr=[-0.60, 0.01], yt=Y_B, ytt=Y_B_TXT,
         tpos=(415, 160), xtpos=(432, 251), ytpos=(291, 198), cap=(414, 281), letter="d",
         leg=(307, 39.6, [262, 268]), fs=dict(ytick=6.6, xtick=6.6, xt=5.7, yt=6.4, leg=5.6)),
    dict(data=C1_CONSEC, colors=C1_COLORS, title="C1 subsidence of the consecutive interferometry",
         px=(51, 263), xr=[0, 200], xt=list(range(0, 201, 10)),
         y0=322, ymin_px=363, yr=[-0.15, 0.006], yt=Y_E, ytt=Y_E_TXT,
         tpos=(139, 310), xtpos=(156, 387), ytpos=(16, 338), cap=(139, 432), letter="e",
         leg=(23, 43.8, [404, 412, 420]), fs=dict(ytick=6.8, xtick=6.6, xt=6.3, yt=6.0, leg=5.7)),
    dict(data=C1_CUMUL, colors=C1_COLORS, title="C1 subsidence of the cumulative interferometry",
         px=(330, 540), xr=[0, 200], xt=list(range(0, 201, 10)),
         y0=324.5, ymin_px=361.5, yr=[-0.40, 0.01], yt=Y_F, ytt=Y_F_TXT,
         tpos=(416, 309), xtpos=(435, 385), ytpos=(291, 336), cap=(415, 432), letter="f",
         leg=(297, 44.0, [403, 411, 419]), fs=dict(ytick=6.4, xtick=6.6, xt=6.5, yt=5.8, leg=5.7)),
]

FONT = "Liberation Sans, Arial, sans-serif"
TXT = "#262626"


def fx(px):
    return px / W


def fy(py):
    return 1 - py / H


fig = go.Figure()
annotations = []
shapes = []
axes = {}

for i, p in enumerate(PANELS, start=1):
    sfx = "" if i == 1 else str(i)
    for (label, (xs, ys)), color in zip(p["data"].items(), p["colors"]):
        fig.add_trace(go.Scatter(x=xs, y=ys, mode="lines", name=label,
                                 line=dict(color=color, width=0.9),
                                 xaxis="x" + sfx, yaxis="y" + sfx, showlegend=False))

    # vertical domain from the pixel rows of 0 and of the axis minimum
    ymin, ymax = p["yr"]
    scale = (p["ymin_px"] - p["y0"]) / (0 - ymin)
    top_px = p["y0"] - ymax * scale
    fs = p["fs"]

    axes["xaxis" + sfx] = dict(domain=[fx(p["px"][0]), fx(p["px"][1])], range=p["xr"],
                               anchor="y" + sfx, showgrid=False, zeroline=False, showline=False,
                               tickmode="array", tickvals=p["xt"], ticktext=[str(v) for v in p["xt"]],
                               tickangle=-90, ticks="", tickfont=dict(size=fs["xtick"], color=TXT, family=FONT))
    axes["yaxis" + sfx] = dict(domain=[fy(p["ymin_px"]), fy(top_px)], range=p["yr"],
                               anchor="x" + sfx, showgrid=False, zeroline=False,
                               showline=True, linecolor="#bfbfbf", linewidth=0.8,
                               ticks="outside", ticklen=2, tickcolor="#bfbfbf",
                               tickmode="array", tickvals=p["yt"], ticktext=p["ytt"],
                               tickfont=dict(size=fs["ytick"], color=TXT, family=FONT))

    # titles
    annotations.append(dict(x=fx(p["tpos"][0]), y=fy(p["tpos"][1]), xref="paper", yref="paper",
                            text=p["title"], showarrow=False, xanchor="center", yanchor="middle",
                            font=dict(size=9, color=TXT, family=FONT)))
    annotations.append(dict(x=fx(p["xtpos"][0]), y=fy(p["xtpos"][1]), xref="paper", yref="paper",
                            text=XTITLE, showarrow=False, xanchor="center", yanchor="middle",
                            font=dict(size=fs["xt"], color=TXT, family=FONT)))
    annotations.append(dict(x=fx(p["ytpos"][0]), y=fy(p["ytpos"][1]), xref="paper", yref="paper",
                            text=YTITLE, showarrow=False, textangle=-90, xanchor="center", yanchor="middle",
                            font=dict(size=fs["yt"], color=TXT, family=FONT)))
    annotations.append(dict(x=fx(p["cap"][0]), y=fy(p["cap"][1]), xref="paper", yref="paper",
                            text="(<b>%s</b>)" % p["letter"], showarrow=False,
                            xanchor="center", yanchor="middle",
                            font=dict(size=12, color="#000000", family="Liberation Serif, Times New Roman, serif")))

    # hand-built legend: short coloured line + label, 6 per row
    tx0, dx, rows = p["leg"]
    for j, (label, color) in enumerate(zip(p["data"].keys(), p["colors"])):
        tx = tx0 + (j % 6) * dx
        ty = rows[j // 6]
        shapes.append(dict(type="line", xref="paper", yref="paper",
                           x0=fx(tx - 10), x1=fx(tx - 2), y0=fy(ty), y1=fy(ty),
                           line=dict(color=color, width=1.2)))
        annotations.append(dict(x=fx(tx), y=fy(ty), xref="paper", yref="paper", text=label,
                                showarrow=False, xanchor="left", yanchor="middle",
                                font=dict(size=fs["leg"], color=TXT, family=FONT)))

fig.update_layout(
    width=W, height=H, autosize=False,
    margin=dict(l=0, r=0, t=0, b=0),
    paper_bgcolor="white", plot_bgcolor="white",
    annotations=annotations, shapes=shapes,
    **axes,
)

# no modebar, and no default page margin so the 550x445 figure fills the window exactly
fig.write_html("out.html",
               config={"displayModeBar": False},
               post_script="document.body.style.margin='0';"
                           "document.documentElement.style.overflow='hidden';")
